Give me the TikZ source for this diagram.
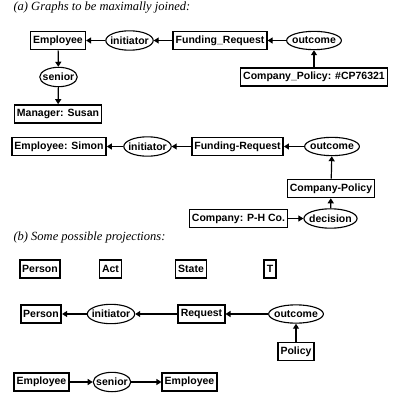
\documentclass[tikz,border=0pt]{standalone}
\usepackage{fontspec}
\setmainfont{Liberation Serif}
\newfontfamily\cgfont{Liberation Sans}
\usetikzlibrary{shapes.geometric, arrows.meta, positioning}

\begin{document}
\begin{tikzpicture}[
    x=1pt, y=-1pt,
    concept/.style={rectangle, draw, line width=1.6pt, minimum height=18pt, inner xsep=2.5pt, inner ysep=1pt, font=\cgfont\bfseries\fontsize{10.5}{12}\selectfont},
    relation/.style={ellipse, draw, line width=1.1pt, inner xsep=-2.5pt, inner ysep=3pt, font=\cgfont\bfseries\fontsize{10.5}{12}\selectfont},
    arrow/.style={-{Triangle[length=5pt, width=6pt]}, line width=1.2pt},
    caption/.style={anchor=west, font=\itshape\fontsize{12.5}{14}\selectfont}
]
    \useasboundingbox (0,0) rectangle (417,401);

    % (a) first graph
    \node[caption] (capa) at (10,8) {(a) Graphs to be maximally joined:};
    \node[concept] (emp) at (58,40.5) {Employee};
    \node[relation] (init) at (129.5,40.5) {initiator};
    \node[concept] (fund) at (220,40.5) {Funding\_Request};
    \node[relation] (outc) at (314,40.5) {outcome};
    \node[concept] (pol) at (314,77) {Company\_Policy: \#CP76321};
    \node[relation] (sen) at (58.5,77) {senior};
    \node[concept] (mgr) at (58,114) {Manager: Susan};

    \draw[arrow] (init) -- (emp);
    \draw[arrow] (fund) -- (init);
    \draw[arrow] (outc) -- (fund);
    \draw[arrow] (pol) -- (outc);
    \draw[arrow] (emp) -- (sen);
    \draw[arrow] (sen) -- (mgr);

    % (a) second graph
    \node[concept] (simon) at (59,146.5) {Employee: Simon};
    \node[relation] (init2) at (147.5,146.5) {initiator};
    \node[concept] (fund2) at (237.5,146.5) {Funding-Request};
    \node[relation] (outc2) at (332,146.5) {outcome};
    \node[concept] (pol2) at (331,188.5) {Company-Policy};
    \node[relation] (dec) at (330.5,218.5) {decision};
    \node[concept] (comp) at (238.5,218.5) {Company: P-H Co.};

    \draw[arrow] (init2) -- (simon);
    \draw[arrow] (fund2) -- (init2);
    \draw[arrow] (outc2) -- (fund2);
    \draw[arrow] (pol2) -- (outc2);
    \draw[arrow] (dec) -- (pol2);
    \draw[arrow] (comp) -- (dec);

    % (b) projections
    \node[caption] (capb) at (10,237) {(b) Some possible projections:};
    \node[concept] (pers) at (40,269) {Person};
    \node[concept] (act) at (110.5,269) {Act};
    \node[concept] (state) at (191,269) {State};
    \node[concept] (top) at (270,269) {T};

    \node[concept] (pers2) at (41,314) {Person};
    \node[relation] (init3) at (111,314) {initiator};
    \node[concept] (req) at (201.5,314) {Request};
    \node[relation] (outc3) at (296,314) {outcome};
    \node[concept] (pol3) at (296,351.5) {Policy};

    \draw[arrow] (init3) -- (pers2);
    \draw[arrow] (req) -- (init3);
    \draw[arrow] (outc3) -- (req);
    \draw[arrow] (pol3) -- (outc3);

    \node[concept] (emp3) at (41.5,382) {Employee};
    \node[relation] (sen3) at (112,382) {senior};
    \node[concept] (emp4) at (189.5,382) {Employee};

    \draw[arrow] (emp3) -- (sen3);
    \draw[arrow] (sen3) -- (emp4);
\end{tikzpicture}
\end{document}
